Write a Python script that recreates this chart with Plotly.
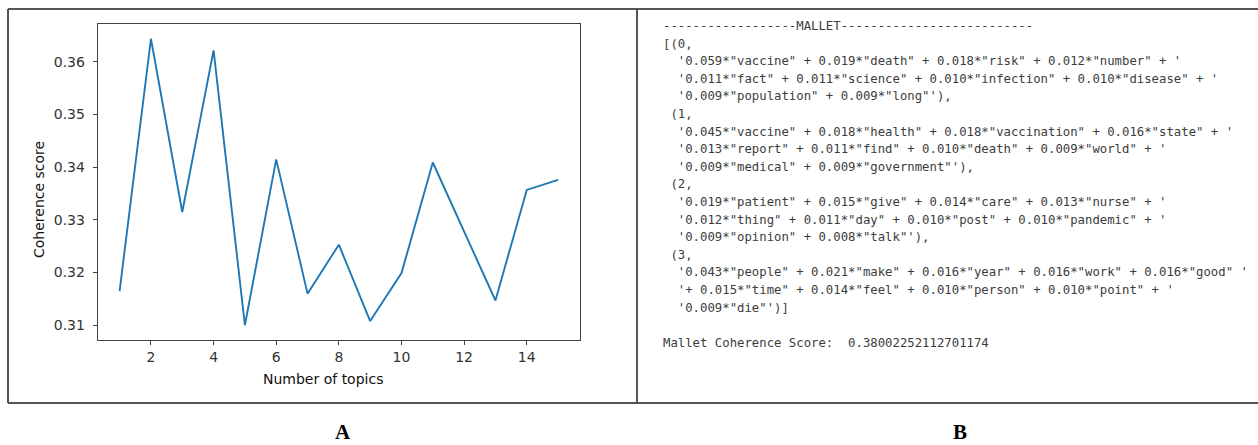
import plotly.graph_objects as go

W, H = 1258, 445

# ---- data (panel A) ----
num_topics = [1, 2, 3, 4, 5, 6, 7, 8, 9, 10, 11, 12, 13, 14, 15]
coherence = [0.3165, 0.3644, 0.3315, 0.3622, 0.3100, 0.3415, 0.3160, 0.3253,
             0.3108, 0.3199, 0.3409, 0.3278, 0.3147, 0.3357, 0.3376]
x_ticks = [2, 4, 6, 8, 10, 12, 14]
y_ticks = [0.31, 0.32, 0.33, 0.34, 0.35, 0.36]

# ---- text (panel B) ----
mallet_lines = [
    "------------------MALLET--------------------------",
    "[(0,",
    "  '0.059*\"vaccine\" + 0.019*\"death\" + 0.018*\"risk\" + 0.012*\"number\" + '",
    "  '0.011*\"fact\" + 0.011*\"science\" + 0.010*\"infection\" + 0.010*\"disease\" + '",
    "  '0.009*\"population\" + 0.009*\"long\"'),",
    " (1,",
    "  '0.045*\"vaccine\" + 0.018*\"health\" + 0.018*\"vaccination\" + 0.016*\"state\" + '",
    "  '0.013*\"report\" + 0.011*\"find\" + 0.010*\"death\" + 0.009*\"world\" + '",
    "  '0.009*\"medical\" + 0.009*\"government\"'),",
    " (2,",
    "  '0.019*\"patient\" + 0.015*\"give\" + 0.014*\"care\" + 0.013*\"nurse\" + '",
    "  '0.012*\"thing\" + 0.011*\"day\" + 0.010*\"post\" + 0.010*\"pandemic\" + '",
    "  '0.009*\"opinion\" + 0.008*\"talk\"'),",
    " (3,",
    "  '0.043*\"people\" + 0.021*\"make\" + 0.016*\"year\" + 0.016*\"work\" + 0.016*\"good\" '",
    "  '+ 0.015*\"time\" + 0.014*\"feel\" + 0.010*\"person\" + 0.010*\"point\" + '",
    "  '0.009*\"die\"')]",
    "",
    "Mallet Coherence Score:  0.38002252112701174",
]
panel_labels = ["A", "B"]


def px(x):
    return x / W


def py(y):
    return 1 - y / H


fig = go.Figure()
fig.add_trace(go.Scatter(
    x=num_topics, y=coherence, mode="lines",
    line=dict(color="#1f77b4", width=1.9), hoverinfo="skip", showlegend=False,
))

axis_common = dict(
    showline=True, mirror=True, linecolor="#444444", linewidth=1,
    ticks="outside", ticklen=4, tickwidth=1, tickcolor="#444444",
    showgrid=False, zeroline=False,
    tickfont=dict(family="DejaVu Sans", size=14, color="#333333"),
)

fig.update_layout(
    width=W, height=H,
    margin=dict(l=0, r=0, t=0, b=0),
    paper_bgcolor="white", plot_bgcolor="white",
    xaxis=dict(domain=[px(97.7), px(580)], range=[0.3, 15.7],
               tickvals=x_ticks, **axis_common),
    yaxis=dict(domain=[py(340), py(24)], range=[0.3072, 0.3672],
               tickvals=y_ticks, tickformat=".2f", ticklabelstandoff=5,
               **axis_common),
)

# axis titles and panel labels
ann = [
    dict(text="Number of topics", x=px(323), y=py(379), xref="paper", yref="paper",
         xanchor="center", yanchor="middle", showarrow=False,
         font=dict(family="DejaVu Sans", size=14, color="#111111")),
    dict(text="Coherence score", x=px(39), y=py(200), xref="paper", yref="paper",
         xanchor="center", yanchor="middle", showarrow=False, textangle=-90,
         font=dict(family="DejaVu Sans", size=14, color="#111111")),
    dict(text="<b>%s</b>" % panel_labels[0], x=px(343), y=py(432), xref="paper", yref="paper",
         xanchor="center", yanchor="middle", showarrow=False,
         font=dict(family="Liberation Serif", size=21, color="black")),
    dict(text="<b>%s</b>" % panel_labels[1], x=px(960), y=py(432), xref="paper", yref="paper",
         xanchor="center", yanchor="middle", showarrow=False,
         font=dict(family="Liberation Serif", size=21, color="black")),
]

# panel B code text
pitch = 17.6
for i, line in enumerate(mallet_lines):
    if not line:
        continue
    stripped = line.lstrip(" ")
    indent = len(line) - len(stripped)
    txt = "\u00a0" * indent + stripped.replace("  ", "\u00a0\u00a0")
    ann.append(dict(
        text=txt, x=px(661), y=py(26 + pitch * i), xref="paper", yref="paper",
        xanchor="left", yanchor="middle", showarrow=False,
        font=dict(family="DejaVu Sans Mono", size=12.3, color="#3c3c3c"),
    ))
fig.update_layout(annotations=ann)

# panel frames
frame = dict(color="#555555", width=2)
shapes = [
    dict(type="line", xref="paper", yref="paper", x0=px(8), x1=1, y0=py(9), y1=py(9), line=frame),
    dict(type="line", xref="paper", yref="paper", x0=px(8), x1=1, y0=py(403), y1=py(403), line=frame),
    dict(type="line", xref="paper", yref="paper", x0=px(8), x1=px(8), y0=py(9), y1=py(403), line=frame),
    dict(type="line", xref="paper", yref="paper", x0=px(637), x1=px(637), y0=py(9), y1=py(403), line=frame),
]
fig.update_layout(shapes=shapes)

fig.write_html(
    "out.html",
    config={"displayModeBar": False},
    post_script="document.body.style.margin='0';document.body.style.overflow='hidden';",
)
